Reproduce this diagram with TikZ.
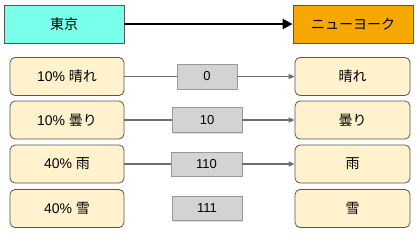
\documentclass[tikz,border=0pt]{standalone}
\usepackage{fontspec}
\setmainfont{Liberation Sans}
\newfontfamily\jp{Noto Sans CJK JP}
\usepackage{xcolor}
\definecolor{tkcyan}{RGB}{122,255,234}
\definecolor{nyorange}{RGB}{247,168,0}
\definecolor{wxcream}{RGB}{255,242,204}
\definecolor{codegray}{RGB}{211,211,211}
\definecolor{edgegray}{RGB}{85,85,85}
\definecolor{linegray}{RGB}{110,110,110}
\usetikzlibrary{arrows.meta,positioning,shadows}

\begin{document}
\begin{tikzpicture}[
  x=1pt,y=-1pt,
  every node/.style={font=\fontsize{14}{16}\selectfont},
  citybox/.style={draw=edgegray,line width=0.8pt,minimum width=120pt,minimum height=38pt,
                  inner sep=0pt,align=center},
  wxbox/.style={draw=edgegray,line width=0.8pt,rounded corners=5pt,minimum height=38pt,
                inner sep=0pt,align=center,fill=wxcream},
  codebox/.style={draw=black!40,line width=0.6pt,fill=codegray,minimum height=24pt,
                  inner sep=0pt,font=\fontsize{13}{15}\selectfont,
                  drop shadow={shadow xshift=1pt,shadow yshift=-1pt,fill=black!25}},
  arr/.style={-{Triangle[width=5pt,length=6pt]},line width=1.2pt,linegray},
  lnk/.style={line width=1.2pt,linegray},
]
  \useasboundingbox (0,0) rectangle (417,234);

  % Cities
  \node[citybox,fill=tkcyan] (tokyo) at (64,24) {\jp 東京};
  \node[citybox,fill=nyorange] (newyork) at (353,24) {\jp ニューヨーク};
  \draw[-{Triangle[width=10pt,length=10pt]},line width=2.6pt,black] (tokyo) -- (newyork);

  % Left column (probabilities)
  \node[wxbox,minimum width=114pt] (sunL) at (67,76.5) {10\% {\jp 晴れ}};
  \node[wxbox,minimum width=114pt] (cloudL) at (67,120) {10\% {\jp 曇り}};
  \node[wxbox,minimum width=114pt] (rainL) at (67,164) {40\% {\jp 雨}};
  \node[wxbox,minimum width=114pt] (snowL) at (67,208.5) {40\% {\jp 雪}};

  % Codes
  \node[codebox,minimum width=60pt,minimum height=25pt] (sunC) at (207,76.5) {0};
  \node[codebox,minimum width=70pt,minimum height=25pt] (cloudC) at (207,120) {10};
  \node[codebox,minimum width=71pt] (rainC) at (206.5,164) {110};
  \node[codebox,minimum width=70pt] (snowC) at (207,208.5) {111};

  % Right column
  \node[wxbox,minimum width=115pt] (sunR) at (352.5,76.5) {\jp 晴れ};
  \node[wxbox,minimum width=115pt] (cloudR) at (352.5,120) {\jp 曇り};
  \node[wxbox,minimum width=115pt] (rainR) at (352.5,164) {\jp 雨};
  \node[wxbox,minimum width=115pt] (snowR) at (352.5,208.5) {\jp 雪};

  % Links
  \draw[lnk] (sunL) -- (sunC);
  \draw[arr] (sunC) -- (sunR);
  \draw[lnk] (cloudL) -- (cloudC);
  \draw[arr] (cloudC) -- (cloudR);
  \draw[lnk] (rainL) -- (rainC);
  \draw[arr] (rainC) -- (rainR);
\end{tikzpicture}
\end{document}
